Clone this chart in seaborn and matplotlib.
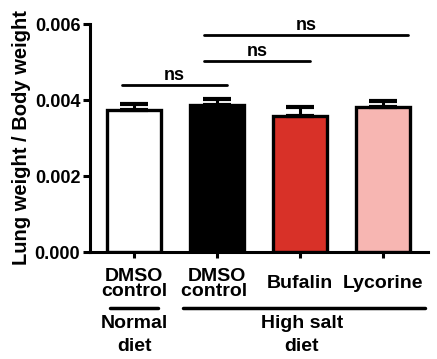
import pandas as pd
import matplotlib.pyplot as plt
import seaborn as sns
from matplotlib.transforms import blended_transform_factory

# Datos
grupos = ["DMSO\ncontrol", "DMSO\ncontrol ", "Bufalin", "Lycorine"]
medias = [0.00375, 0.00388, 0.00358, 0.00382]
errores = [0.00015, 0.00015, 0.00024, 0.00015]
colores = ["#FFFFFF", "#000000", "#D83128", "#F7B6B2"]

# comparaciones (inicio, fin, altura)
comp_ini = [-0.15, 0.84, 0.84]
comp_fin = [1.12, 2.12, 3.30]
comp_y = [0.00440, 0.00503, 0.00571]
comp_txt = ["ns", "ns", "ns"]

df = pd.DataFrame({"grupo": grupos, "valor": medias})

sns.set_style("ticks")
plt.rcParams["font.family"] = ["Liberation Sans", "DejaVu Sans"]
plt.rcParams["font.weight"] = "bold"
plt.rcParams["text.color"] = "black"
plt.rcParams["axes.labelcolor"] = "black"
plt.rcParams["axes.edgecolor"] = "black"
plt.rcParams["xtick.color"] = "black"
plt.rcParams["ytick.color"] = "black"

fig = plt.figure(figsize=(4.37, 3.59), dpi=100)
ax = fig.add_axes([0.206, 0.298, 0.773, 0.635])

sns.barplot(data=df, x="grupo", y="valor", hue="grupo", palette=colores,
            legend=False, width=0.66, edgecolor="black", linewidth=2.4,
            saturation=1, errorbar=None, ax=ax)
ax.errorbar(range(4), medias, yerr=[[0] * 4, errores], fmt="none",
            ecolor="black", elinewidth=2.2, capsize=10, capthick=3, zorder=1)

ax.set_ylim(0, 0.006)
ax.set_xlim(-0.53, 3.54)
ax.set_yticks([0, 0.002, 0.004, 0.006])
ax.set_yticklabels(["0.000", "0.002", "0.004", "0.006"], fontsize=13, fontweight="bold")
ax.set_xticks(range(4))
ax.set_xticklabels(grupos, fontsize=14, fontweight="bold", linespacing=0.85)
for lbl in ax.get_xticklabels():
    lbl.set_verticalalignment("center")
ax.tick_params(axis="x", length=4, width=2.2, pad=19)
ax.tick_params(axis="y", length=5, width=2.2, pad=2)
ax.set_xlabel("")
ax.set_ylabel("Lung weight / Body weight", fontsize=14.5, fontweight="bold", labelpad=3)
for s in ["left", "bottom"]:
    ax.spines[s].set_linewidth(2.2)
sns.despine(ax=ax)

# lineas de significancia
for x0, x1, y, t in zip(comp_ini, comp_fin, comp_y, comp_txt):
    ax.plot([x0, x1], [y, y], color="black", lw=2.0, clip_on=False)
    ax.text((x0 + x1) / 2, y + 0.00003, t, ha="center", va="bottom",
            fontsize=13, fontweight="bold")

# grupos de dieta
tr = blended_transform_factory(ax.transData, ax.transAxes)
ax.plot([-0.29, 0.29], [-0.245, -0.245], color="black", lw=2.5,
        transform=tr, clip_on=False)
ax.plot([0.59, 3.5], [-0.245, -0.245], color="black", lw=2.5,
        transform=tr, clip_on=False)
ax.text(0, -0.365, "Normal\ndiet", transform=tr, ha="center", va="center",
        fontsize=14, fontweight="bold", linespacing=1.45)
ax.text(2.02, -0.365, "High salt\ndiet", transform=tr, ha="center", va="center",
        fontsize=14, fontweight="bold", linespacing=1.45)

plt.savefig("out.png", dpi=100)
